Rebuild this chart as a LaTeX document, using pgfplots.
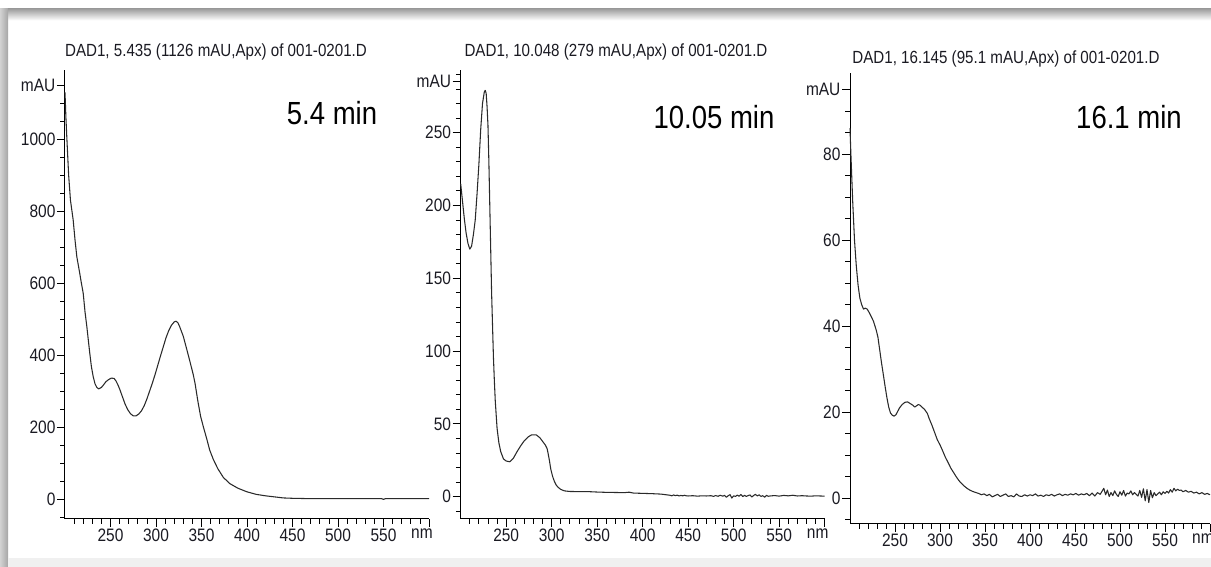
\documentclass[border=0pt]{standalone}
\usepackage{fontspec}
\setmainfont{Liberation Sans}[FakeStretch=0.86]
\usepackage{pgfplots}
\pgfplotsset{compat=1.18}
\definecolor{trace}{HTML}{2A2A2A}
\definecolor{lbl}{HTML}{1A1A22}
\pgfplotsset{
  dad/.style={
    scale only axis,
    anchor=south west,
    axis lines=left,
    axis line style={-, line width=0.75pt, black},
    tick align=outside,
    major tick length=6pt,
    minor tick length=3.6pt,
    every tick/.style={black, line width=0.6pt},
    /pgf/number format/assume math mode=true,
    /pgf/number format/1000 sep={},
    ticklabel style={font=\fontsize{13.5}{14}\selectfont, text=lbl, inner sep=1pt},
    xmin=200, xmax=600,
    xtick={250,300,...,550},
    minor xtick={210,220,...,600},
    extra x ticks={600},
    extra x tick labels={nm},
    extra x tick style={xticklabel style={anchor=north east, xshift=4pt}},
    clip=false,
  },
  trc/.style={trace, line width=0.8pt, line join=round},
}

\begin{document}
\begin{tikzpicture}
% window frame shadow
\shade[top color=gray!75, bottom color=white] (0pt,418.5pt) rectangle (908.25pt,410pt);
\shade[left color=gray!35, right color=gray!70] (0pt,0pt) rectangle (6pt,418.5pt);
\fill[gray!12] (6pt,0pt) rectangle (908.25pt,6.5pt);

% ---- 5.4 min
\begin{axis}[dad, at={(48.75pt,36pt)}, width=273pt, height=336.75pt,
  ymin=-55.5, ymax=1192,
  ytick={0,200,...,1000},
  minor ytick={-50,0,...,1150},
  extra y ticks={1150}, extra y tick labels={mAU}]
\addplot[trc] coordinates {
(200,1130)(201,1060)(202,1005)(204,900)(206,830)(209,775)(211,720)(213,673)
(216,630)(218,600)(220,572)(222,520)(224,479)(227,410)(229,368)(231,340)
(233,320)(235,310)(237,306)(240,310)(242,316)(245,326)(248,332)(251,336)
(254,335)(256,328)(258,318)(260,306)(263,285)(266,264)(269,248)(272,237)
(275,231)(278,231)(281,236)(284,245)(287,259)(290,278)(293,300)(296,322)
(299,346)(302,372)(305,398)(308,423)(311,448)(314,468)(317,483)(320,492)
(322,494)(324,490)(326,479)(330,452)(334,414)(337,385)(341,345)(343,320)
(346,272)(349,230)(352,201)(356,165)(359,136)(363,110)(368,84)(374,60)
(381,43)(390,30)(400,20)(410,13)(420,9)(430,6)(440,3)(450,2)(470,1)
(500,1)(548,1)(550,-1)(552,1)(600,1)};
\end{axis}

% ---- 10.05 min
\begin{axis}[dad, at={(345.5pt,36pt)}, width=273pt, height=336.75pt,
  ymin=-15.3, ymax=293,
  ytick={0,50,...,250},
  minor ytick={-10,0,...,290},
  extra y ticks={285}, extra y tick labels={mAU}]
\addplot[trc] coordinates {
(200,215)(202,203)(204,191)(206,181)(208,174)(210,170)(212,172)(214,180)
(216,190)(218,208)(220,228)(222,252)(224,270)(226,278)(227,279)(228,277)
(229,268)(230,255)(231,230)(232,200)(233,170)(234,140)(235,118)(236,96)
(237,80)(238,66)(240,47)(242,37)(244,31)(247,26)(250,24.5)(254,24)
(258,26.5)(262,31)(266,35)(270,38.5)(274,41)(278,42.5)(283,42.5)(287,40.5)
(290,38)(293,35.5)(295,33)(296,30)(297.5,25)(299,19)(301,14)(303,10.5)
(305,8)(307,6.5)(310,5)(314,4)(320,3.6)(330,3.5)(340,3.5)(350,3.2)
(360,3.0)(370,2.9)(380,2.8)(385,3.1)(390,2.5)(400,2.3)(410,2.1)(420,1.8)
(425,1.4)(430,1.0)(432,0.6)(434,1.2)(436,0.7)(438,1.1)(440,0.5)(442,0.9)
(444,0.6)(446,1.0)(448,0.6)(450,0.5)(455,0.7)(460,0.4)(465,0.6)(470,0.5)
(475,0.7)(478,0.2)(480,0.8)(483,0.3)(485,1.0)(488,0.4)(490,0.9)(492,-0.4)
(494,0.7)(496,1.4)(498,-0.9)(500,0.6)(502,0.2)(504,1.1)(506,0.3)(508,1.5)
(510,0.1)(512,0.9)(514,0.2)(516,0.8)(518,1.2)(520,-0.2)(522,0.9)(524,1.6)
(526,0.5)(528,1.3)(530,0.2)(532,0.7)(534,-0.3)(536,0.9)(538,0.3)(540,0.5)
(545,0.8)(550,0.4)(555,0.9)(560,0.6)(565,1.0)(570,0.5)(575,0.7)(580,0.5)
(585,0.4)(590,0.6)(595,0.5)(600,0.4)};
\end{axis}

% ---- 16.1 min
\begin{axis}[dad, at={(637.5pt,32.25pt)}, width=270pt, height=338.25pt,
  ymin=-6, ymax=98.9,
  ytick={0,20,...,80},
  minor ytick={-5,0,...,95},
  extra y ticks={95}, extra y tick labels={mAU}]
\addplot[trc] coordinates {
(200,86)(201,80)(203,69)(205,60)(207,54)(209,49.5)(211,46.5)(213,45)
(215,44)(217,44.2)(219,44)(221,43.3)(223,42.5)(226,41.2)(229,39.2)(231,37.5)
(233,34.5)(235,31.5)(237,28.8)(239,26)(241,23.4)(243,21.2)(245,19.8)(247,19.3)
(249,19.1)(251,19.4)(253,20.2)(255,21)(258,21.8)(261,22.3)(264,22.4)(267,22)
(270,21.6)(272,21.2)(274,21.5)(276,21.8)(278,21.6)(280,21.2)(283,20.6)(286,19.7)
(288,18.5)(291,17)(294,15.3)(297,13.6)(300,12.4)(303,11)(306,9.5)(309,8.3)
(312,7)(315,6)(318,5)(321,4.1)(324,3.4)(327,2.8)(330,2.3)(333,1.9)
(336,1.6)(340,1.3)(343,1.1)(346,0.8)(349,1.0)(352,0.6)(355,0.9)(358,0.3)
(361,0.6)(364,0.9)(367,0.4)(370,0.7)(373,1.0)(376,0.4)(379,0.6)(382,0.3)
(385,1.0)(388,0.5)(391,0.4)(394,0.8)(397,0.5)(400,0.8)(403,0.6)(406,1.0)
(409,0.5)(412,0.7)(415,0.4)(418,0.8)(421,0.6)(424,0.9)(427,0.5)(430,0.8)
(433,1.0)(436,0.6)(439,0.9)(442,0.7)(445,1.0)(448,0.8)(451,1.1)(454,0.7)
(457,1.0)(460,0.8)(463,1.1)(466,0.6)(469,1.2)(472,0.5)(475,1.3)(478,0.9)
(480,1.6)(482,2.3)(484,0.8)(486,1.9)(488,0.4)(490,1.3)(492,0.6)(494,1.7)
(496,0.9)(498,0.4)(500,1.5)(502,0.7)(504,1.8)(506,0.5)(508,1.2)(510,1.0)
(512,1.7)(514,0.8)(516,1.3)(518,0.9)(520,0.5)(522,1.8)(524,0.2)(526,2.2)
(528,-0.6)(530,2.0)(532,-1.0)(534,1.8)(536,0.1)(538,1.3)(540,0.6)(542,1.0)
(544,1.4)(546,0.8)(548,1.5)(550,1.1)(552,1.6)(554,1.2)(556,2.0)(558,1.4)
(560,2.3)(562,1.7)(564,2.1)(566,1.8)(568,1.9)(570,1.5)(573,1.8)(576,1.4)
(579,1.6)(582,1.2)(585,1.4)(588,1.0)(591,1.3)(594,0.9)(597,1.1)(600,0.8)};
\end{axis}

% titles and labels
\begin{scope}[every node/.style={text=lbl, inner sep=0pt}]
\node[font=\fontsize{13.2}{14}\selectfont] at (162pt,386.25pt) {DAD1, 5.435 (1126 mAU,Apx) of 001-0201.D};
\node[font=\fontsize{13.2}{14}\selectfont] at (462pt,386.25pt) {DAD1, 10.048 (279 mAU,Apx) of 001-0201.D};
\node[font=\fontsize{13.2}{14}\selectfont] at (754.5pt,381pt) {DAD1, 16.145 (95.1 mAU,Apx) of 001-0201.D};
\node[font=\fontsize{24}{26}\selectfont, text=black] at (249pt,340.5pt) {5.4 min};
\node[font=\fontsize{24}{26}\selectfont, text=black] at (535.5pt,337.5pt) {10.05 min};
\node[font=\fontsize{24}{26}\selectfont, text=black] at (846.75pt,337.5pt) {16.1 min};
\end{scope}

\pgfresetboundingbox
\useasboundingbox (0pt,0pt) rectangle (908.25pt,425.25pt);
\end{tikzpicture}
\end{document}
